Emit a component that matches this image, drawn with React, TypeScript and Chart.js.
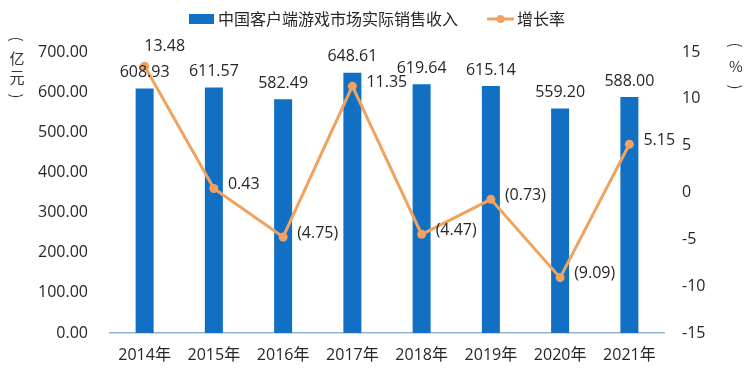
import React, { useEffect, useRef } from 'react';
import { Chart, registerables } from 'chart.js';

Chart.register(...registerables);

const categories = ['2014年', '2015年', '2016年', '2017年', '2018年', '2019年', '2020年', '2021年'];
const revenue = [608.93, 611.57, 582.49, 648.61, 619.64, 615.14, 559.2, 588.0];
const growth = [13.48, 0.43, -4.75, 11.35, -4.47, -0.73, -9.09, 5.15];
const revenueName = '中国客户端游戏市场实际销售收入';
const growthName = '增长率';
const leftTitle = ['(', '亿', '元', ')'];
const rightTitle = ['(', '%', ')'];
// label placement for growth values
const growthLabelPlace = ['above', 'right', 'right', 'right', 'right', 'right', 'right', 'right'];

const BLUE = '#1170C4';
const ORANGE = '#F0A35E';
const TEXT = '#262626';
const FONT = '"Open Sans", "Noto Sans CJK SC", sans-serif';
const CJK = '"Noto Sans CJK SC", sans-serif';

const fmtGrowth = (v: number) => (v < 0 ? `(${Math.abs(v).toFixed(2)})` : v.toFixed(2));

const labelsPlugin = {
  id: 'valueLabels',
  afterDatasetsDraw(chart: any) {
    const ctx = chart.ctx;
    ctx.save();
    ctx.fillStyle = TEXT;
    ctx.font = `16px ${FONT}`;
    const barMeta = chart.getDatasetMeta(0);
    barMeta.data.forEach((el: any, i: number) => {
      ctx.textAlign = 'center';
      ctx.textBaseline = 'middle';
      ctx.fillText(revenue[i].toFixed(2), el.x, el.y - 16);
    });
    const lineMeta = chart.getDatasetMeta(1);
    lineMeta.data.forEach((el: any, i: number) => {
      const t = fmtGrowth(growth[i]);
      ctx.textBaseline = 'middle';
      if (growthLabelPlace[i] === 'above') {
        ctx.textAlign = 'center';
        ctx.fillText(t, el.x + 20, el.y - 20);
      } else {
        ctx.textAlign = 'left';
        ctx.fillText(t, el.x + 14, el.y - 4);
      }
    });
    ctx.restore();
  },
};

function drawVertical(ctx: any, chars: string[], x: number, y0: number, step: number) {
  chars.forEach((ch, i) => {
    const y = y0 + i * step;
    if (ch === '(' || ch === ')') {
      ctx.save();
      ctx.translate(x, y);
      ctx.rotate(Math.PI / 2);
      ctx.fillText(ch, 0, 0);
      ctx.restore();
    } else {
      ctx.fillText(ch, x, y);
    }
  });
}

const decorPlugin = {
  id: 'decor',
  afterDraw(chart: any) {
    const ctx = chart.ctx;
    ctx.save();
    // axis titles (vertical)
    ctx.fillStyle = '#333';
    ctx.font = `15px ${CJK}`;
    ctx.textAlign = 'center';
    ctx.textBaseline = 'middle';
    drawVertical(ctx, leftTitle, 17, 39, 19);
    drawVertical(ctx, rightTitle, 736, 45, 21);

    // legend
    ctx.font = `16px ${CJK}`;
    ctx.textAlign = 'left';
    const w1 = ctx.measureText(revenueName).width;
    const w2 = ctx.measureText(growthName).width;
    const total = 25 + 4 + w1 + 29 + 27 + 3 + w2;
    let x = 377 - total / 2;
    const y = 19;
    ctx.fillStyle = BLUE;
    ctx.fillRect(x, y - 5, 25, 10);
    x += 29;
    ctx.fillStyle = TEXT;
    ctx.fillText(revenueName, x, y);
    x += w1 + 29;
    ctx.strokeStyle = ORANGE;
    ctx.lineWidth = 3;
    ctx.beginPath();
    ctx.moveTo(x, y);
    ctx.lineTo(x + 27, y);
    ctx.stroke();
    ctx.fillStyle = ORANGE;
    ctx.beginPath();
    ctx.arc(x + 13.5, y, 4, 0, Math.PI * 2);
    ctx.fill();
    x += 30;
    ctx.fillStyle = TEXT;
    ctx.fillText(growthName, x, y);
    ctx.restore();
  },
};

export default function App() {
  const ref = useRef<HTMLCanvasElement>(null);
  useEffect(() => {
    const chart = new Chart(ref.current!, {
      type: 'bar',
      data: {
        labels: categories,
        datasets: [
          {
            type: 'bar',
            label: revenueName,
            data: revenue,
            backgroundColor: BLUE,
            yAxisID: 'y',
            barPercentage: 0.52,
            categoryPercentage: 0.5,
            order: 2,
          },
          {
            type: 'line',
            label: growthName,
            data: growth,
            borderColor: ORANGE,
            backgroundColor: ORANGE,
            borderWidth: 3,
            pointRadius: 4.5,
            pointBackgroundColor: ORANGE,
            pointBorderWidth: 0,
            tension: 0,
            yAxisID: 'y1',
            order: 1,
          } as any,
        ],
      },
      options: {
        animation: false,
        responsive: false,
        layout: { padding: { top: 52, bottom: 0, left: 0, right: 0 } },
        plugins: {
          tooltip: { enabled: false },
          legend: { display: false },
        },
        scales: {
          x: {
            grid: { display: false, drawTicks: false },
            border: { display: true, color: '#8FB3DA', width: 1.5 },
            ticks: { color: TEXT, font: { family: FONT, size: 16 }, padding: 13, maxRotation: 0, autoSkip: false },
            afterFit: (s: any) => { s.height = 45; },
          },
          y: {
            position: 'left',
            min: 0,
            max: 700,
            grid: { display: false, drawTicks: false },
            border: { display: false },
            ticks: {
              stepSize: 100,
              color: TEXT,
              padding: 22,
              font: { family: FONT, size: 16 },
              callback: (v: any) => Number(v).toFixed(2),
            },
            afterFit: (s: any) => { s.width = 110; },
          },
          y1: {
            position: 'right',
            min: -15,
            max: 15,
            grid: { display: false, drawTicks: false },
            border: { display: false },
            ticks: { stepSize: 5, color: TEXT, padding: 18, font: { family: FONT, size: 16 } },
            afterFit: (s: any) => { s.width = 86; },
          },
        },
      },
      plugins: [labelsPlugin, decorPlugin],
    });
    return () => chart.destroy();
  }, []);
  return (
    <div style={{ position: 'fixed', left: 0, top: 0, width: 750, height: 378, background: '#fff' }}>
      <canvas ref={ref} width={750} height={378} />
    </div>
  );
}
